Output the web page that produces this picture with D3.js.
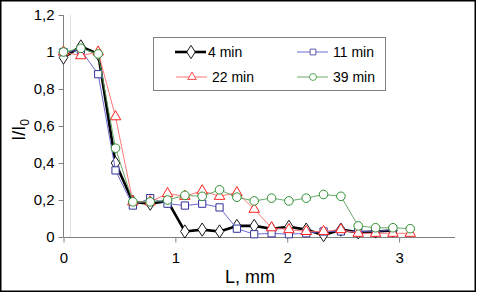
<!DOCTYPE html>
<html><head><meta charset="utf-8">
<script src="https://cdn.jsdelivr.net/npm/d3@7"></script>
<style>body{margin:0;background:#fff}svg{display:block;font-family:"Liberation Sans",Arial,sans-serif}</style>
</head><body><svg id="c" width="477" height="294"></svg>
<script>
const L = [0, 0.155, 0.31, 0.465, 0.62, 0.775, 0.93, 1.085, 1.24, 1.395, 1.55, 1.705, 1.86, 2.015, 2.17, 2.325, 2.48, 2.635, 2.79, 2.945, 3.1];
const min4  = [0.97, 1.03, 0.99, 0.40, 0.19, 0.18, 0.195, 0.03, 0.04, 0.03, 0.06, 0.06, 0.045, 0.055, 0.04, 0.01, 0.04, 0.025, 0.03, 0.035, null];
const min11 = [1.00, 1.01, 0.88, 0.36, 0.17, 0.21, 0.18, 0.17, 0.18, 0.16, 0.045, 0.015, 0.02, 0.015, 0.02, 0.03, 0.03, 0.03, 0.03, 0.04, null];
const min22 = [1.00, 0.98, 1.00, 0.65, 0.19, 0.19, 0.235, 0.22, 0.25, 0.22, 0.24, 0.15, 0.05, 0.04, 0.03, 0.03, 0.04, 0.02, 0.02, 0.02, 0.02];
const min39 = [1.00, 1.02, 0.99, 0.48, 0.19, 0.19, 0.20, 0.225, 0.22, 0.255, 0.215, 0.195, 0.21, 0.195, 0.21, 0.23, 0.22, 0.06, 0.05, 0.05, 0.045];
const seriesNames = ["4 min", "11 min", "22 min", "39 min"];
const xTicks = [0, 1, 2, 3];
const yTicks = [0, 0.2, 0.4, 0.6, 0.8, 1, 1.2];
const yTickLabels = ["0", "0,2", "0,4", "0,6", "0,8", "1", "1,2"];

const svg = d3.select("#c");
const x = d3.scaleLinear().domain([0, 3.5]).range([63.5, 455]);
const y = d3.scaleLinear().domain([0, 1.2]).range([237, 15]);

// outer frame
svg.append("rect").attr("x", 0.75).attr("y", 0.75).attr("width", 474.5).attr("height", 290.5)
  .attr("fill", "#fff").attr("stroke", "#000").attr("stroke-width", 1.5);

// faint vertical line
svg.append("line").attr("x1", 70.5).attr("x2", 70.5).attr("y1", 15).attr("y2", 237)
  .attr("stroke", "#e2e2e2").attr("stroke-width", 1);

// axes
const gy = svg.append("g").attr("transform", "translate(63.5,0)")
  .call(d3.axisLeft(y).tickValues(yTicks).tickSize(5).tickPadding(4).tickFormat((d, i) => yTickLabels[i]));
const gx = svg.append("g").attr("transform", "translate(0,237.5)")
  .call(d3.axisBottom(x).tickValues(xTicks).tickSize(5).tickPadding(10).tickFormat(d => d));
[gx, gy].forEach(g => {
  g.select(".domain").attr("stroke", "#808080");
  g.selectAll(".tick line").attr("stroke", "#808080");
  g.selectAll("text").attr("font-size", 15).attr("fill", "#000").attr("font-family", '"Liberation Sans",Arial,sans-serif');
});
gx.select(".domain").attr("d", `M${x(0)},0H${x(3.5)}`);
gy.select(".domain").attr("d", `M0,${y(1.2)}V${y(0)}`);

// axis titles
svg.append("text").attr("x", 250).attr("y", 283).attr("text-anchor", "middle")
  .attr("font-size", 18).text("L, mm");
const yt = svg.append("text").attr("transform", "translate(25,130) rotate(-90)")
  .attr("text-anchor", "middle").attr("font-size", 18);
yt.append("tspan").text("I/I");
yt.append("tspan").attr("font-size", 12).attr("dy", 4).text("0");

// series
const data = [min4, min11, min22, min39];
const styles = [
  {line: "#000", lw: 2.6, mk: "#000", shape: d3.symbolDiamond, size: 70},
  {line: "#5a5acc", lw: 0.9, mk: "#333399", shape: d3.symbolSquare, size: 52},
  {line: "#ff6a6a", lw: 0.9, mk: "#ff2020", shape: d3.symbolTriangle, size: 48},
  {line: "#5aa05a", lw: 0.9, mk: "#2e8f2e", shape: d3.symbolCircle, size: 58}
];
const line = d3.line().defined(d => d[1] != null).x(d => x(d[0])).y(d => y(d[1]));
data.forEach((vals, k) => {
  const pts = L.map((l, i) => [l, vals[i]]).filter(d => d[1] != null);
  const st = styles[k];
  svg.append("path").attr("d", line(pts)).attr("fill", "none")
    .attr("stroke", st.line).attr("stroke-width", st.lw).attr("stroke-linejoin", "round");
  svg.append("g").selectAll("path").data(pts).join("path")
    .attr("transform", d => `translate(${x(d[0])},${y(d[1])})` + (k === 0 ? " scale(0.95,0.85)" : ""))
    .attr("d", d3.symbol().type(st.shape).size(st.size))
    .attr("fill", "#fff").attr("stroke", st.mk).attr("stroke-width", 1);
});

// legend
const lg = svg.append("g");
lg.append("rect").attr("x", 153.5).attr("y", 37.5).attr("width", 232).attr("height", 53)
  .attr("fill", "#fff").attr("stroke", "#808080").attr("stroke-width", 1);
const lpos = [[175, 52], [297, 52], [176, 77], [297, 77]];
seriesNames.forEach((n, k) => {
  const st = styles[k];
  const [lx, ly] = lpos[k];
  lg.append("line").attr("x1", lx).attr("x2", lx + 31).attr("y1", ly).attr("y2", ly)
    .attr("stroke", st.line).attr("stroke-width", k === 0 ? 2.6 : 0.9);
  lg.append("path").attr("transform", `translate(${lx + 16},${ly})` + (k === 0 ? " scale(0.95,0.85)" : " scale(0.8)"))
    .attr("d", d3.symbol().type(st.shape).size(st.size)).attr("fill", "#fff").attr("stroke", st.mk);
  lg.append("text").attr("x", lx + (k === 0 ? 33 : 36)).attr("y", ly + 5).attr("font-size", 14).text(n);
});
</script></body></html>
